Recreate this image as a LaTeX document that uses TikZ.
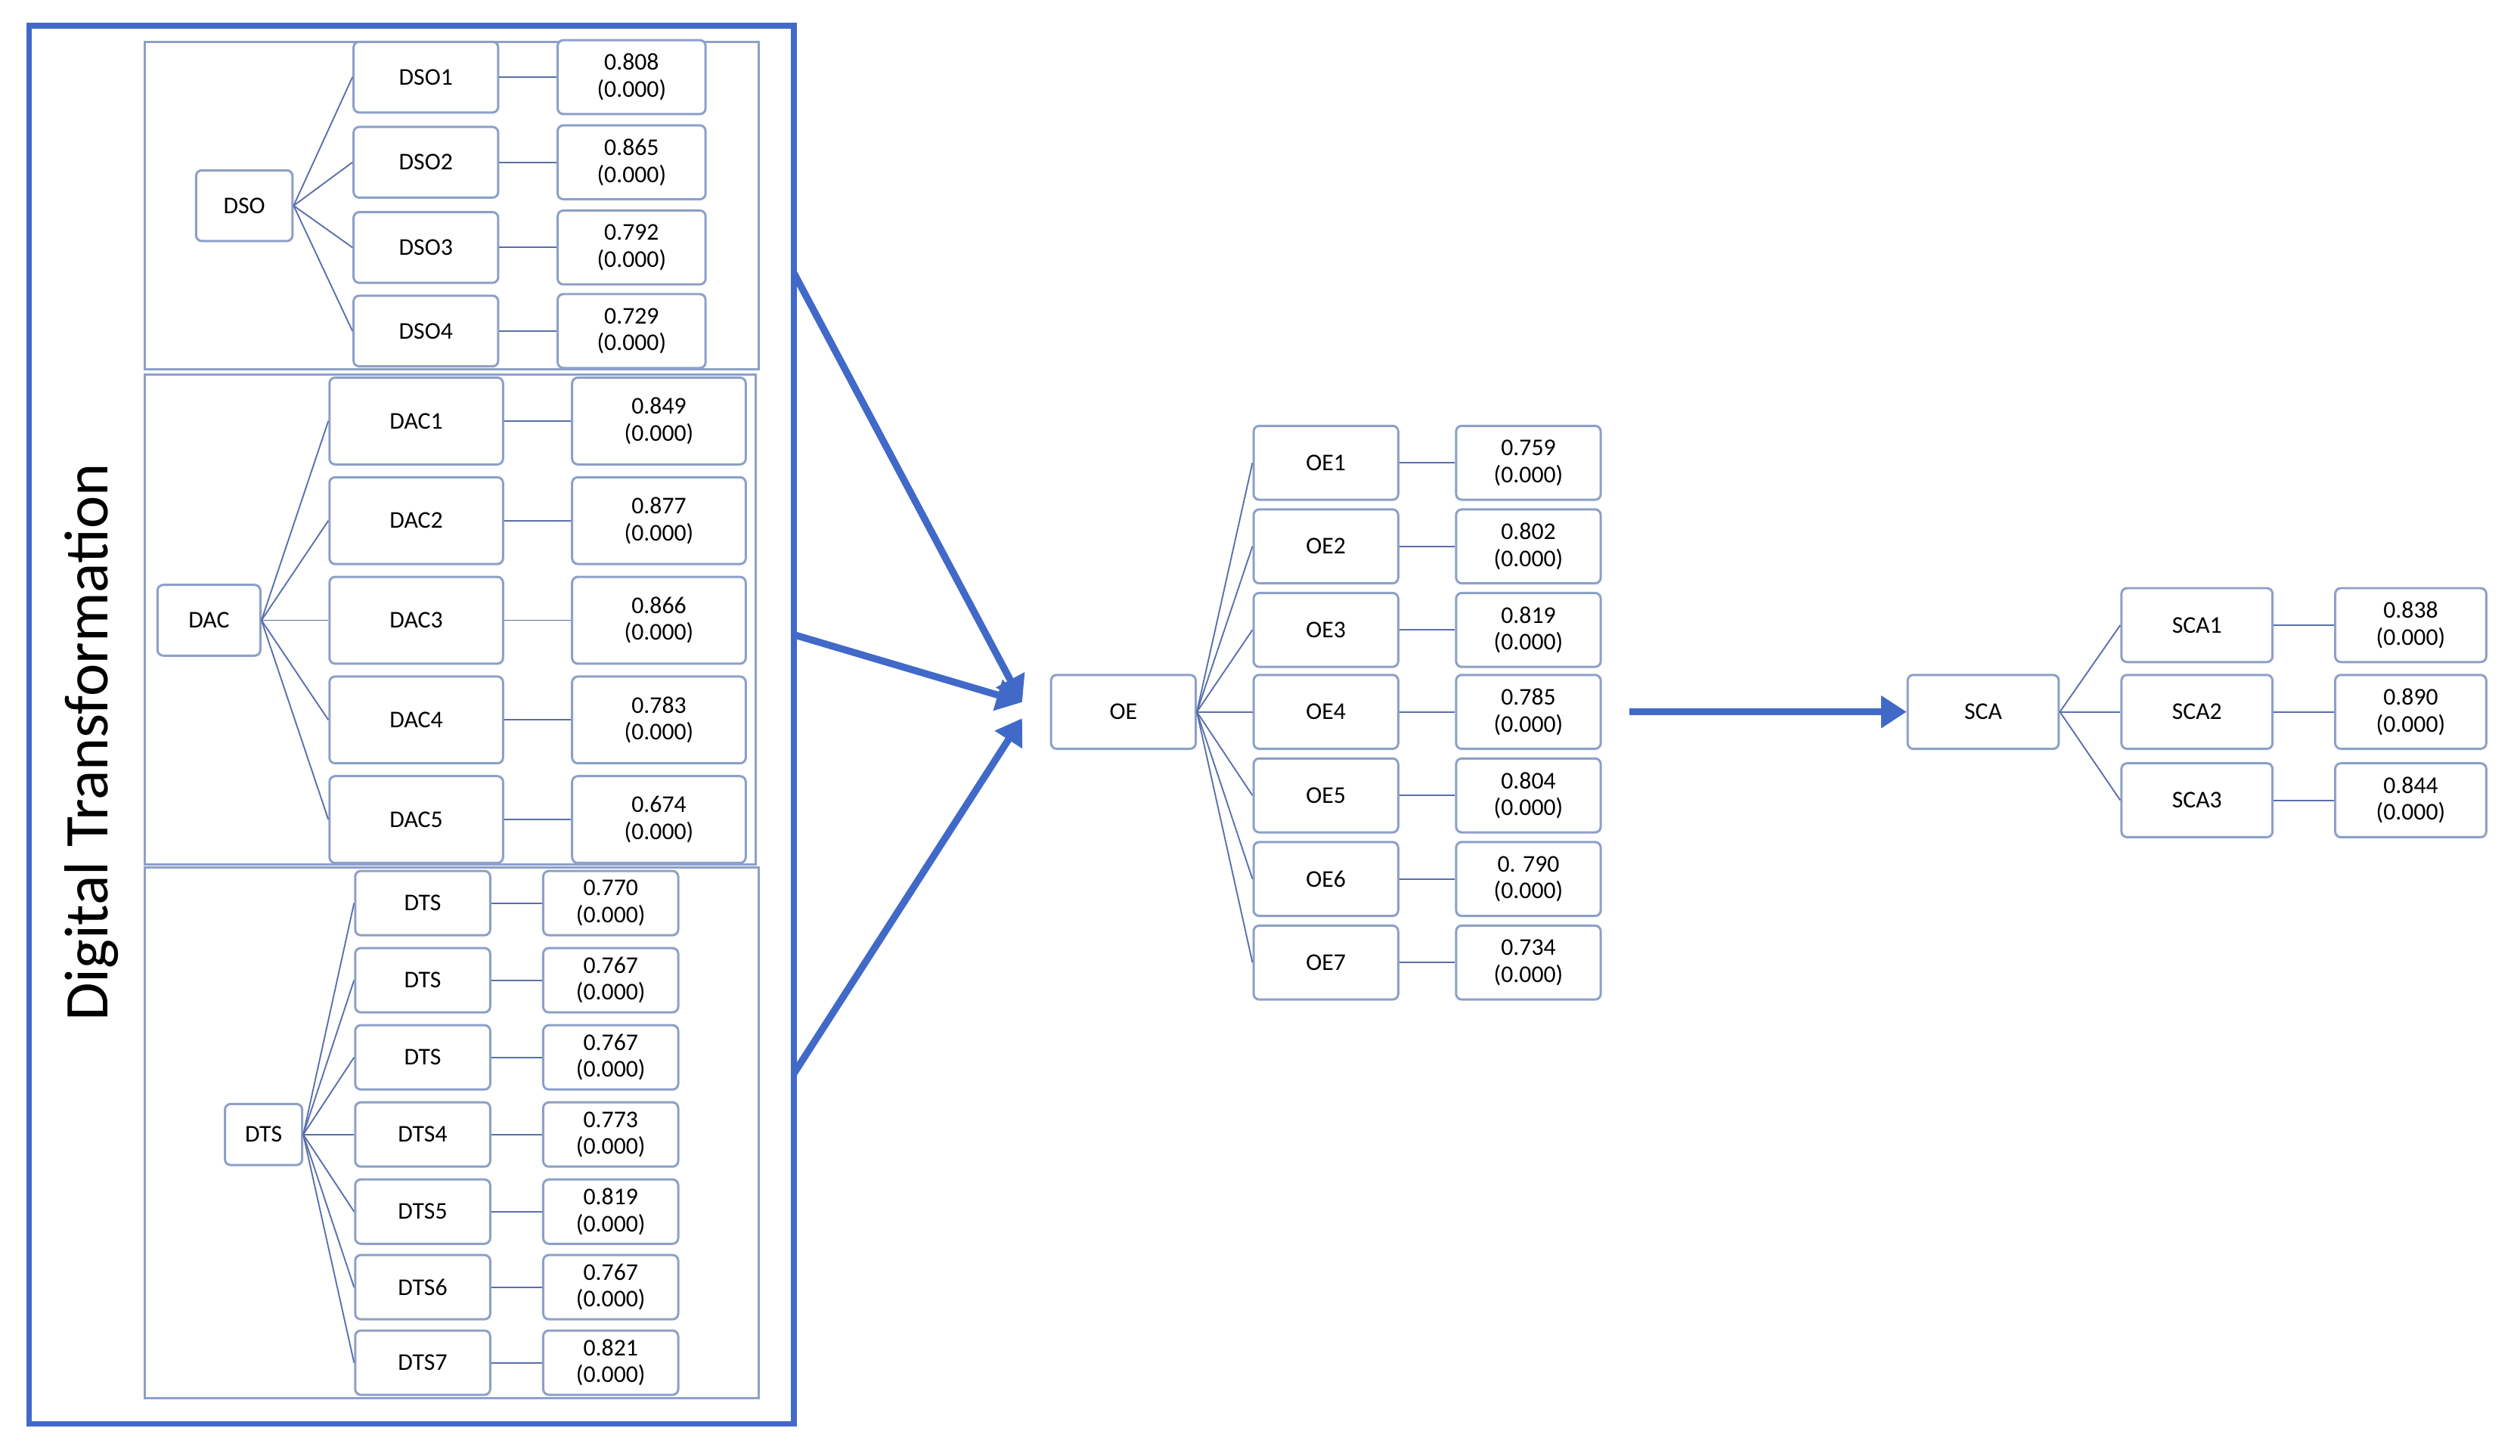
\documentclass[tikz,border=0pt]{standalone}
\usepackage{fontspec}
\setmainfont{Carlito}
\usetikzlibrary{arrows.meta}
\definecolor{bord}{RGB}{140,160,200}
\definecolor{lnk}{RGB}{90,110,170}
\definecolor{big}{RGB}{65,105,200}
\tikzset{
 box/.style={draw=bord,rounded corners=2pt,fill=white,line width=0.8pt,align=center,font=\fontsize{8.5}{9.5}\selectfont,inner sep=0pt},
 lk/.style={draw=lnk,line width=0.5pt},
 panel/.style={draw=bord,line width=0.8pt},
 bigarrow/.style={draw=big,line width=2.5pt,-{Triangle[length=9pt,width=11pt]}}
}
\begin{document}
\begin{tikzpicture}[x=0.02cm,y=-0.02cm]
\useasboundingbox (0,0) rectangle (1568,906);
\draw[draw=big,line width=2pt] (18,16) rectangle (494,886);
\draw[panel] (90,26) rectangle (472,230);
\draw[panel] (90,233) rectangle (470,538);
\draw[panel] (90,540) rectangle (472,870);
\node[rotate=90,font=\fontsize{22}{26}\selectfont] (dt) at (57,462) {Digital Transformation};
% DSO
\node[box,minimum width=60*0.02cm,minimum height=44*0.02cm] (dso) at (152,128) {DSO};
\foreach \i/\y/\v in {1/48/0.808,2/101/0.865,3/154/0.792,4/206/0.729}{
 \node[box,minimum width=90*0.02cm,minimum height=44*0.02cm] (dso\i) at (265,\y) {DSO\i};
 \node[box,minimum width=92*0.02cm,minimum height=46*0.02cm] (dsov\i) at (393,\y) {\v\\(0.000)};
 \draw[lk] (dso.east) -- (dso\i.west);
 \draw[lk] (dso\i.east) -- (dsov\i.west);
}
% DAC
\node[box,minimum width=64*0.02cm,minimum height=44*0.02cm] (dac) at (130,386) {DAC};
\foreach \i/\y/\v in {1/262/0.849,2/324/0.877,3/386/0.866,4/448/0.783,5/510/0.674}{
 \node[box,minimum width=108*0.02cm,minimum height=54*0.02cm] (dac\i) at (259,\y) {DAC\i};
 \node[box,minimum width=108*0.02cm,minimum height=54*0.02cm] (dacv\i) at (410,\y) {\v\\(0.000)};
 \draw[lk] (dac.east) -- (dac\i.west);
 \draw[lk] (dac\i.east) -- (dacv\i.west);
}
% DTS
\node[box,minimum width=48*0.02cm,minimum height=38*0.02cm] (dts) at (164,706) {DTS};
\foreach \i/\y/\v/\t in {1/562/0.770/DTS,2/610/0.767/DTS,3/658/0.767/DTS,4/706/0.773/DTS4,5/754/0.819/DTS5,6/801/0.767/DTS6,7/848/0.821/DTS7}{
 \node[box,minimum width=84*0.02cm,minimum height=40*0.02cm] (dts\i) at (263,\y) {\t};
 \node[box,minimum width=84*0.02cm,minimum height=40*0.02cm] (dtsv\i) at (380,\y) {\v\\(0.000)};
 \draw[lk] (dts.east) -- (dts\i.west);
 \draw[lk] (dts\i.east) -- (dtsv\i.west);
}
% OE
\node[box,minimum width=90*0.02cm,minimum height=46*0.02cm] (oe) at (699,443) {OE};
\foreach \i/\y/\v in {1/288/0.759,2/340/0.802,3/392/0.819,4/443/0.785,5/495/0.804,6/547/0. 790,7/599/0.734}{
 \node[box,minimum width=90*0.02cm,minimum height=46*0.02cm] (oe\i) at (825,\y) {OE\i};
 \node[box,minimum width=90*0.02cm,minimum height=46*0.02cm] (oev\i) at (951,\y) {\v\\(0.000)};
 \draw[lk] (oe.east) -- (oe\i.west);
 \draw[lk] (oe\i.east) -- (oev\i.west);
}
% SCA
\node[box,minimum width=94*0.02cm,minimum height=46*0.02cm] (sca) at (1234,443) {SCA};
\foreach \i/\y/\v in {1/389/0.838,2/443/0.890,3/498/0.844}{
 \node[box,minimum width=94*0.02cm,minimum height=46*0.02cm] (sca\i) at (1367,\y) {SCA\i};
 \node[box,minimum width=94*0.02cm,minimum height=46*0.02cm] (scav\i) at (1500,\y) {\v\\(0.000)};
 \draw[lk] (sca.east) -- (sca\i.west);
 \draw[lk] (sca\i.east) -- (scav\i.west);
}
% arrows
\coordinate (a1) at (494,170);
\coordinate (a2) at (494,395);
\coordinate (a3) at (494,668);
\coordinate (t1) at (636,437);
\coordinate (t3) at (636,447);
\coordinate (s0) at (1014,443);
\draw[bigarrow] (a1) -- (t1);
\draw[bigarrow] (a2) -- (t1);
\draw[bigarrow] (a3) -- (t3);
\draw[bigarrow] (s0) -- (sca.west);
\end{tikzpicture}
\end{document}
